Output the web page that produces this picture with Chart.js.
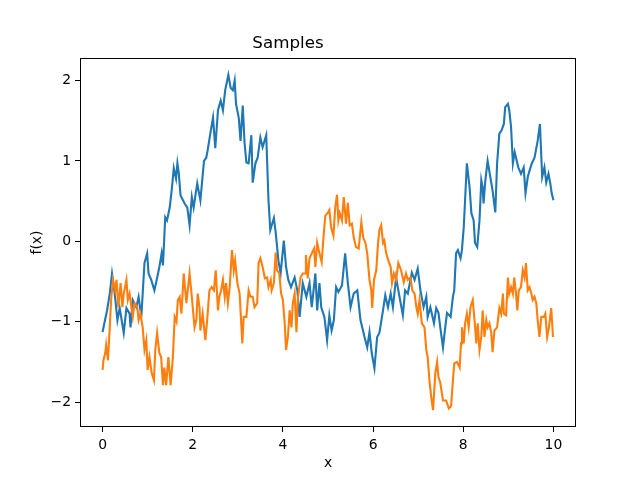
<!DOCTYPE html>
<html>
<head>
<meta charset="utf-8">
<script src="https://cdn.jsdelivr.net/npm/chart.js@4/dist/chart.umd.min.js"></script>
<style>
  html, body { margin: 0; padding: 0; background: #fff; }
  #wrap { width: 640px; height: 480px; }
</style>
</head>
<body>
<div id="wrap"><canvas id="chart" width="640" height="480"></canvas></div>
<script>
// --- data ---
const xBlue = [0.00,0.04,0.10,0.16,0.21,0.27,0.33,0.38,0.47,0.53,0.60,0.62,0.67,0.75,0.80,0.86,0.93,0.99,1.02,1.08,
  1.15,1.19,1.26,1.31,1.34,1.39,1.43,1.49,1.54,1.58,1.63,1.66,1.69,1.73,1.82,1.88,1.93,1.98,2.02,2.10,
  2.17,2.25,2.30,2.33,2.39,2.45,2.50,2.56,2.62,2.67,2.72,2.79,2.84,2.89,2.93,2.96,3.02,3.06,3.11,3.15,
  3.19,3.24,3.30,3.33,3.39,3.44,3.50,3.55,3.63,3.68,3.72,3.80,3.84,3.90,3.95,4.02,4.07,4.12,4.18,4.26,
  4.32,4.37,4.44,4.52,4.59,4.64,4.72,4.76,4.81,4.85,4.92,4.98,5.03,5.08,5.13,5.18,5.23,5.31,5.38,5.44,
  5.50,5.57,5.65,5.72,5.81,5.87,5.92,5.97,6.03,6.09,6.14,6.22,6.27,6.33,6.39,6.44,6.51,6.56,6.66,6.71,
  6.77,6.86,6.92,6.99,7.05,7.12,7.18,7.21,7.27,7.35,7.40,7.45,7.49,7.55,7.60,7.64,7.72,7.77,7.80,7.84,
  7.88,7.94,7.97,8.01,8.04,8.08,8.14,8.18,8.23,8.26,8.31,8.36,8.40,8.43,8.45,8.49,8.54,8.60,8.65,8.71,
  8.75,8.80,8.85,8.90,8.93,8.99,9.02,9.06,9.10,9.14,9.17,9.22,9.28,9.34,9.38,9.43,9.47,9.52,9.58,9.65,
  9.70,9.75,9.80,9.84,9.89,9.93,9.96,10.00];
const yBlue = [-1.13,-1.02,-0.86,-0.65,-0.40,-0.65,-0.98,-0.83,-1.14,-0.83,-0.90,-1.07,-0.73,-0.82,-0.69,-0.94,-0.27,-0.15,-0.40,-0.48,
  -0.61,-0.51,-0.32,-0.15,-0.30,0.30,0.26,0.42,0.67,0.91,0.78,0.97,0.85,0.57,0.47,0.42,0.20,0.55,0.42,0.72,
  0.51,1.00,1.04,1.13,1.34,1.54,1.16,1.63,1.75,1.63,1.88,2.07,1.91,1.88,2.00,1.71,1.54,1.25,1.69,1.22,
  0.98,0.97,1.32,0.73,0.97,1.04,1.29,1.17,1.32,0.51,0.14,0.29,0.11,-0.24,-0.40,0.01,-0.32,-0.48,-0.57,-0.45,
  -0.61,-0.94,-0.52,-0.69,-0.52,-0.82,-0.40,-0.86,-0.52,-0.82,-0.94,-1.23,-0.92,-1.11,-0.98,-0.57,-0.63,-0.55,-0.15,-0.52,
  -0.82,-0.65,-0.61,-0.98,-1.19,-1.32,-1.13,-1.39,-1.58,-1.19,-1.14,-0.86,-0.67,-0.82,-0.65,-0.82,-0.45,-0.61,-0.92,-0.61,
  -0.65,-0.39,-0.48,-0.34,-0.61,-0.82,-0.69,-0.94,-0.82,-1.02,-0.83,-0.89,-1.07,-1.32,-1.07,-0.89,-0.94,-0.69,-0.61,-0.15,
  -0.11,-0.21,-0.11,0.17,0.51,0.97,0.67,0.35,0.26,-0.02,-0.07,0.26,0.76,0.67,0.47,0.76,1.00,0.80,0.63,0.36,
  0.97,1.34,1.38,1.46,1.67,1.71,1.63,1.42,0.97,1.11,1.04,0.92,0.84,0.92,0.60,0.80,0.88,0.97,1.04,1.25,
  1.46,0.80,0.92,0.73,0.84,0.72,0.60,0.51];

const xOrange = [0.00,0.02,0.06,0.08,0.12,0.16,0.19,0.23,0.28,0.31,0.35,0.40,0.44,0.47,0.53,0.56,0.60,0.64,0.67,0.71,
  0.77,0.80,0.84,0.89,0.93,0.97,1.00,1.04,1.09,1.14,1.17,1.21,1.26,1.30,1.34,1.37,1.41,1.46,1.51,1.56,
  1.60,1.64,1.67,1.71,1.75,1.80,1.86,1.89,1.93,1.98,2.04,2.08,2.11,2.15,2.17,2.22,2.28,2.32,2.37,2.42,
  2.47,2.51,2.56,2.59,2.63,2.67,2.71,2.74,2.78,2.82,2.87,2.91,2.94,2.99,3.04,3.10,3.13,3.19,3.24,3.28,
  3.33,3.37,3.43,3.46,3.50,3.55,3.60,3.65,3.68,3.73,3.75,3.80,3.84,3.87,3.92,3.96,4.00,4.04,4.07,4.11,
  4.15,4.19,4.22,4.26,4.30,4.33,4.39,4.44,4.49,4.51,4.55,4.59,4.64,4.69,4.72,4.76,4.81,4.86,4.90,4.94,
  4.99,5.03,5.07,5.12,5.16,5.20,5.23,5.26,5.31,5.35,5.40,5.44,5.48,5.53,5.57,5.62,5.68,5.74,5.78,5.83,
  5.87,5.92,5.96,5.98,6.02,6.07,6.11,6.14,6.18,6.22,6.25,6.29,6.34,6.39,6.42,6.46,6.51,6.56,6.62,6.68,
  6.73,6.77,6.83,6.87,6.92,6.96,6.99,7.03,7.08,7.14,7.18,7.21,7.25,7.29,7.33,7.38,7.42,7.45,7.49,7.55,
  7.62,7.68,7.73,7.77,7.80,7.86,7.92,7.95,7.97,8.01,8.04,8.08,8.12,8.16,8.21,8.25,8.29,8.32,8.36,8.40,
  8.43,8.47,8.51,8.54,8.58,8.62,8.65,8.69,8.75,8.80,8.84,8.88,8.90,8.95,8.99,9.02,9.06,9.10,9.13,9.17,
  9.20,9.23,9.28,9.32,9.36,9.39,9.43,9.47,9.51,9.54,9.58,9.62,9.65,9.69,9.73,9.79,9.82,9.86,9.90,9.95,
  9.99];
const yOrange = [-1.60,-1.48,-1.39,-1.29,-1.48,-1.07,-0.73,-0.48,-0.61,-0.48,-0.82,-0.52,-0.82,-0.65,-0.48,-0.73,-0.65,-0.82,-0.94,-0.77,
  -0.82,-0.98,-0.90,-1.07,-1.35,-1.23,-1.60,-1.44,-1.64,-1.73,-1.35,-1.14,-1.39,-1.44,-1.79,-1.57,-1.79,-1.44,-1.79,-1.44,
  -0.94,-1.00,-0.73,-0.69,-0.90,-0.40,-0.77,-0.61,-0.40,-0.69,-1.07,-0.98,-0.65,-0.82,-1.11,-0.90,-1.23,-0.98,-0.61,-0.57,
  -0.61,-0.36,-0.86,-0.69,-0.61,-0.48,-0.69,-0.52,-0.77,-0.57,-0.11,-0.36,-0.24,-0.52,-0.65,-1.27,-0.94,-0.94,-0.61,-0.69,
  -0.69,-0.82,-0.77,-0.27,-0.21,-0.32,-0.46,-0.45,-0.57,-0.48,-0.61,-0.52,-0.14,-0.36,-0.40,-0.65,-0.73,-1.02,-1.35,-1.19,
  -0.86,-1.07,-0.77,-0.65,-1.13,-0.73,-0.45,-0.40,-0.40,-0.17,-0.46,-0.21,-0.15,-0.09,-0.32,-0.02,-0.15,-0.26,0.05,0.32,
  0.35,0.39,0.17,0.07,0.42,0.58,0.26,0.35,0.26,0.55,0.22,0.48,0.20,0.22,0.05,-0.07,-0.09,0.24,0.05,-0.02,
  -0.15,-0.48,-0.61,-0.83,-0.48,-0.36,-0.02,0.14,0.20,-0.02,0.01,-0.15,-0.24,-0.32,-0.52,-0.40,-0.48,-0.27,-0.36,-0.51,
  -0.40,-0.48,-0.45,-0.61,-0.65,-0.82,-0.90,-0.73,-1.02,-1.07,-1.35,-1.44,-1.73,-1.94,-2.10,-1.64,-1.50,-1.69,-1.76,-1.98,
  -1.98,-2.08,-2.05,-1.73,-1.52,-1.50,-1.57,-1.27,-1.07,-1.27,-1.02,-0.90,-1.07,-0.82,-0.73,-0.98,-1.27,-1.02,-1.35,-1.19,
  -0.86,-1.19,-0.98,-1.07,-1.02,-1.14,-1.38,-1.11,-1.07,-0.83,-0.90,-0.65,-0.90,-0.92,-0.45,-0.65,-0.57,-0.65,-0.45,-0.65,
  -0.86,-0.61,-0.57,-0.36,-0.45,-0.27,-0.61,-0.57,-0.65,-0.73,-0.69,-0.77,-0.98,-1.19,-0.94,-0.94,-0.90,-1.19,-1.07,-0.83,
  -1.19];

const xTicks = [0, 2, 4, 6, 8, 10];
const yTicks = [-2, -1, 0, 1, 2];

const toPoints = (xs, ys) => xs.map((x, i) => ({ x: x, y: ys[i] }));
const minus = v => String(v).replace('-', '\u2212');

// rahmen um die achsen (matplotlib spines)
const frame = {
  id: 'frame',
  afterDatasetsDraw(chart) {
    const a = chart.chartArea, c = chart.ctx;
    c.save();
    c.strokeStyle = '#000';
    c.lineWidth = 1;
    c.strokeRect(Math.round(a.left) + 0.5, Math.round(a.top) + 0.5,
                 Math.round(a.right - a.left) - 1, Math.round(a.bottom - a.top) - 1);
    c.restore();
  }
};

const tickFont = { family: 'DejaVu Sans', size: 13.9 };

new Chart(document.getElementById('chart'), {
  type: 'line',
  data: {
    datasets: [
      { label: 'sample 1', data: toPoints(xBlue, yBlue), borderColor: '#1f77b4', order: 2 },
      { label: 'sample 2', data: toPoints(xOrange, yOrange), borderColor: '#ff7f0e', order: 1 }
    ]
  },
  options: {
    responsive: false,
    animation: false,
    devicePixelRatio: 1,
    layout: { padding: { top: 0, right: 64, left: 0, bottom: 0 } },
    elements: {
      line: { borderWidth: 2.1, tension: 0, fill: false },
      point: { radius: 0 }
    },
    plugins: {
      legend: { display: false },
      tooltip: { enabled: false },
      title: {
        display: true,
        text: 'Samples',
        color: '#000',
        font: { family: 'DejaVu Sans', size: 16.7, weight: 'normal' },
        padding: { top: 34, bottom: 4 }
      }
    },
    scales: {
      x: {
        type: 'linear',
        min: -0.5, max: 10.5,
        afterBuildTicks: s => { s.ticks = xTicks.map(v => ({ value: v })); },
        afterFit: s => { s.height = 53; },
        grid: { display: true, drawOnChartArea: false, drawTicks: true, tickLength: 5, color: '#000' },
        border: { display: false },
        ticks: { color: '#000', font: tickFont, padding: 5, maxRotation: 0, callback: v => minus(v) },
        title: { display: true, text: 'x', color: '#000', font: tickFont, padding: { top: 0, bottom: 8 } }
      },
      y: {
        type: 'linear',
        min: -2.31, max: 2.28,
        afterBuildTicks: s => { s.ticks = yTicks.map(v => ({ value: v })); },
        afterFit: s => { s.width = 80; },
        grid: { display: true, drawOnChartArea: false, drawTicks: true, tickLength: 5, color: '#000' },
        border: { display: false },
        ticks: { color: '#000', font: tickFont, padding: 4, callback: v => minus(v) },
        title: { display: true, text: 'f(x)', color: '#000', font: tickFont, padding: { top: 29, bottom: 0 } }
      }
    }
  },
  plugins: [frame]
});
</script>
</body>
</html>
